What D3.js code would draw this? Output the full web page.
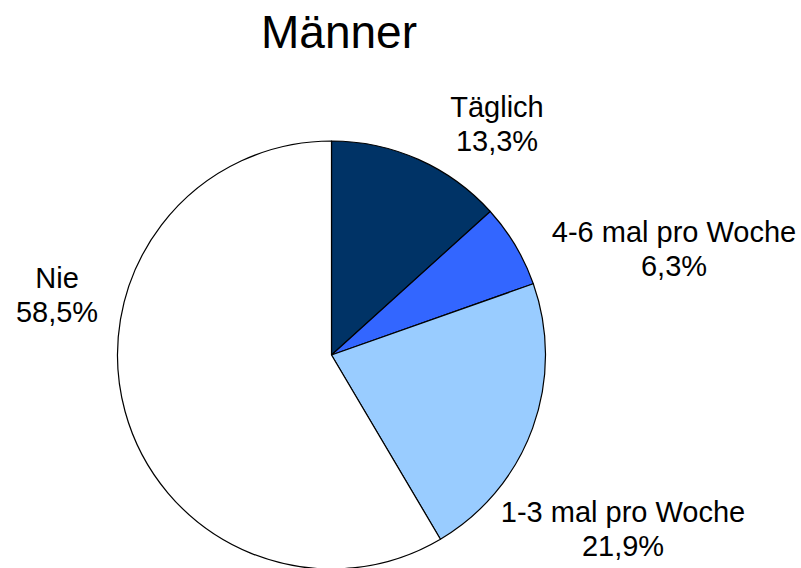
<!DOCTYPE html>
<html>
<head>
<meta charset="utf-8">
<script src="https://cdn.jsdelivr.net/npm/d3@7"></script>
<style>
  body { margin: 0; background: #fff; }
  svg text { font-family: "Liberation Sans", Arial, sans-serif; fill: #000; }
</style>
</head>
<body>
<script>
// data
var categories = ["Täglich", "4-6 mal pro Woche", "1-3 mal pro Woche", "Nie"];
var values = [13.3, 6.3, 21.9, 58.5];
var valueLabels = ["13,3%", "6,3%", "21,9%", "58,5%"];
var sliceColors = ["#003366", "#3366ff", "#99ccff", "#ffffff"];

var width = 801, height = 568;
var cx = 331.5, cy = 355, radius = 214;

// label anchors (centre x, first baseline), layout only
var labelAnchor = [[497, 117], [674, 242], [623, 522], [57, 288]];

var svg = d3.select("body").append("svg")
  .attr("width", width)
  .attr("height", height);

svg.append("text")
  .attr("x", 339)
  .attr("y", 48)
  .attr("text-anchor", "middle")
  .style("font-size", "46px")
  .text("Männer");

var pie = d3.pie().sort(null).value(function(d){ return d; });
var arc = d3.arc().innerRadius(0).outerRadius(radius);

var g = svg.append("g")
  .attr("transform", "translate(" + cx + "," + cy + ")");

g.selectAll("path.slice")
  .data(pie(values))
  .enter()
  .append("path")
  .attr("class", "slice")
  .attr("d", arc)
  .attr("fill", function(d, i){ return sliceColors[i]; })
  .attr("stroke", "#000")
  .attr("stroke-width", 1.2)
  .attr("stroke-linejoin", "round");

var labels = svg.selectAll("text.lbl")
  .data(categories)
  .enter()
  .append("text")
  .attr("class", "lbl")
  .attr("text-anchor", "middle")
  .style("font-size", "29px")
  .attr("transform", function(d, i){
    return "translate(" + labelAnchor[i][0] + "," + labelAnchor[i][1] + ")";
  });

labels.append("tspan")
  .attr("x", 0)
  .attr("y", 0)
  .text(function(d){ return d; });

labels.append("tspan")
  .attr("x", 0)
  .attr("y", 34)
  .text(function(d, i){ return valueLabels[i]; });
</script>
</body>
</html>
